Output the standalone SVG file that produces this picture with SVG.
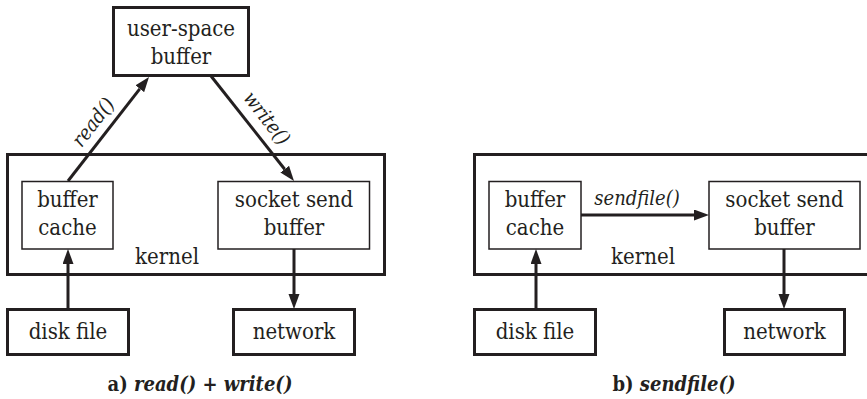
<svg xmlns="http://www.w3.org/2000/svg" width="867" height="399" viewBox="0 0 867 399">
<style>
  .thick{fill:#fff;stroke:#231f20;stroke-width:3}
  .thin{fill:#fff;stroke:#231f20;stroke-width:1.5}
  .kern{fill:none;stroke:#231f20;stroke-width:3}
  text{font-family:'DejaVu Serif Condensed','DejaVu Serif',serif;fill:#231f20;text-anchor:middle}
  .t{font-size:22px}
  .lbl{font-size:20px;font-style:italic}
  .cap{font-size:20px;font-weight:bold}
  .conn line{stroke:#231f20;stroke-width:3;marker-end:url(#ah)}
</style>
<defs>
  <marker id="ah" markerUnits="userSpaceOnUse" markerWidth="16" markerHeight="12" refX="0" refY="5.5" orient="auto">
    <path d="M0,0 L15,5.5 L0,11 Z" fill="#231f20"/>
  </marker>
</defs>

<!-- Panel a -->
<g id="a-kernel">
  <rect class="kern" x="7.5" y="154.5" width="377" height="120"/>
  <text class="t" x="167" y="264">kernel</text>
</g>
<g id="a-user">
  <rect class="thick" x="113.5" y="7.5" width="135" height="68"/>
  <text class="t" x="181" y="36">user-space</text>
  <text class="t" x="181" y="64">buffer</text>
</g>
<g id="a-cache">
  <rect class="thin" x="22" y="181.5" width="91" height="67.5"/>
  <text class="t" x="67.5" y="207">buffer</text>
  <text class="t" x="67.5" y="235">cache</text>
</g>
<g id="a-socket">
  <rect class="thin" x="218" y="181.5" width="151.5" height="67.5"/>
  <text class="t" x="294" y="207">socket send</text>
  <text class="t" x="294" y="235">buffer</text>
</g>
<g id="a-disk">
  <rect class="thick" x="7.5" y="309.5" width="121" height="45"/>
  <text class="t" x="68" y="339">disk file</text>
</g>
<g id="a-net">
  <rect class="thick" x="233.5" y="309.5" width="121" height="45"/>
  <text class="t" x="294" y="339">network</text>
</g>

<!-- Panel b -->
<g id="b-kernel">
  <rect class="kern" x="474.5" y="154.5" width="420" height="120"/>
  <text class="t" x="643" y="264">kernel</text>
</g>
<g id="b-cache">
  <rect class="thin" x="489" y="181.5" width="92" height="67.5"/>
  <text class="t" x="535" y="207">buffer</text>
  <text class="t" x="535" y="235">cache</text>
</g>
<g id="b-socket">
  <rect class="thin" x="709" y="181.5" width="151" height="67.5"/>
  <text class="t" x="784.5" y="207">socket send</text>
  <text class="t" x="784.5" y="235">buffer</text>
</g>
<g id="b-disk">
  <rect class="thick" x="474.5" y="309.5" width="121" height="45"/>
  <text class="t" x="535" y="339">disk file</text>
</g>
<g id="b-net">
  <rect class="thick" x="724.5" y="309.5" width="120" height="45"/>
  <text class="t" x="784.5" y="339">network</text>
</g>

<!-- Connectors -->
<g id="connectors" class="conn">
  <line x1="68" y1="181" x2="139.8" y2="88.8"/>
  <line x1="211" y1="76" x2="284.7" y2="169.2"/>
  <line x1="68" y1="309" x2="68" y2="264"/>
  <line x1="294" y1="249" x2="294" y2="294"/>
  <line x1="536" y1="309" x2="536" y2="264"/>
  <line x1="784" y1="249" x2="784" y2="294"/>
  <line x1="581" y1="215" x2="694" y2="215"/>
</g>
<g id="conn-labels">
  <text class="lbl" transform="translate(98.5,126.3) rotate(-52)">read()</text>
  <text class="lbl" transform="translate(261.5,122.3) rotate(52)">write()</text>
  <text class="lbl" x="637" y="205">sendfile()</text>
</g>

<!-- Captions -->
<g id="captions">
  <text class="cap" x="200" y="391">a) <tspan font-style="italic">read() + write()</tspan></text>
  <text class="cap" x="674" y="391">b) <tspan font-style="italic">sendfile()</tspan></text>
</g>
</svg>
